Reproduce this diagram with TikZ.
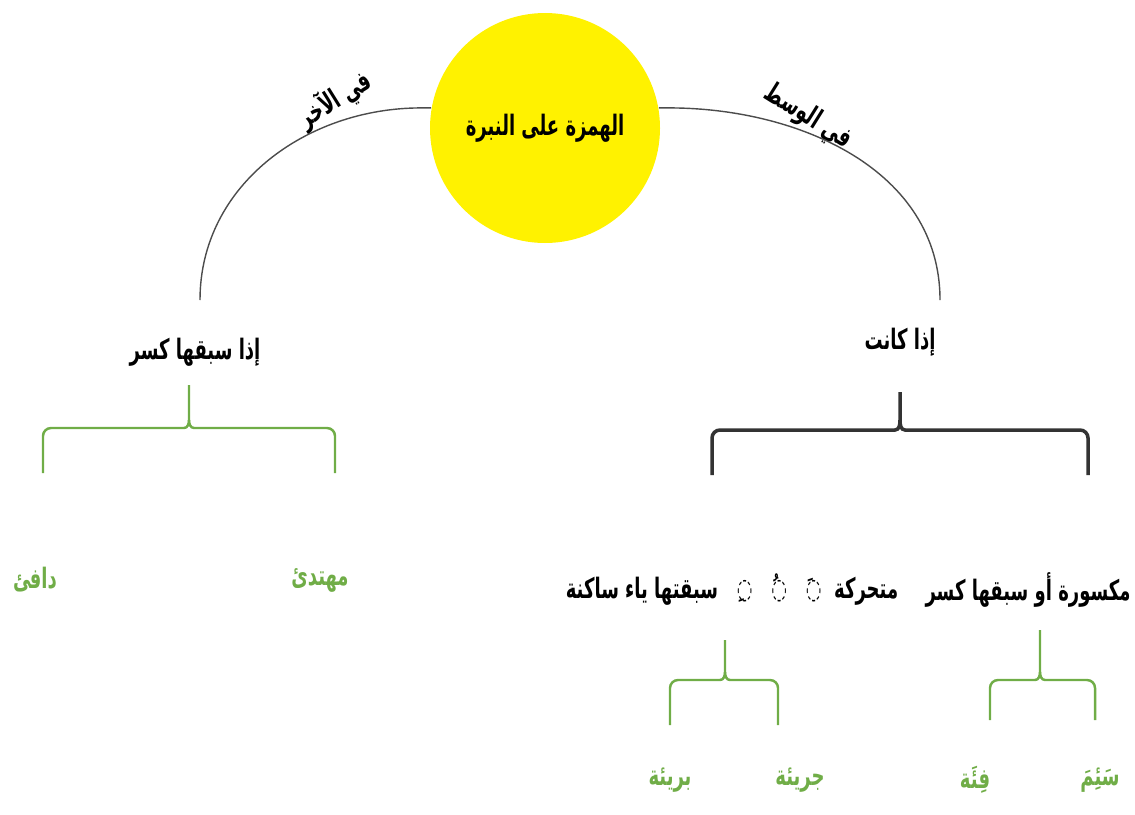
\documentclass[tikz,border=0pt]{standalone}
\usepackage{fontspec}
\TeXXeTstate=1
\newfontfamily\arabicfont[Script=Arabic, FakeStretch=0.64]{DejaVu Sans}
\usetikzlibrary{positioning, calc}
\definecolor{gruen}{RGB}{112,173,71}

\begin{document}
\begin{tikzpicture}[every node/.style={font=\arabicfont\bfseries\footnotesize},
    bogen/.style={draw=black!70, thin},
    klammer/.style={draw=gruen, line width=0.7pt},
    wort/.style={text=gruen}]
    \useasboundingbox (0,0) rectangle (11.35,-8.14);

    \node[circle, fill=yellow, minimum size=2.3cm, inner sep=0pt] (hamza) at (5.45,-1.28) {\beginR الهمزة على النبرة\endR};

    \coordinate (akhir) at (2.0,-3.0);
    \coordinate (wasat) at (9.4,-3.0);
    \node[rotate=32] (fialakhir) at (3.35,-1.0) {\beginR في الآخر\endR};
    \node[rotate=-32] (fialwasat) at (8.08,-1.17) {\beginR في الوسط\endR};

    \node (sabaqaha) at (1.95,-3.52) {\beginR إذا سبقها كسر\endR};
    \node (kanat) at (9.0,-3.42) {\beginR إذا كانت\endR};

    \node[wort] (muhtadi) at (3.2,-5.8) {\beginR مهتدئ\endR};
    \node[wort] (dafi) at (0.35,-5.8) {\beginR دافئ\endR};

    \node (maksura) at (10.28,-5.9) {\beginR مكسورة أو سبقها كسر\endR};
    \node (mutaharrika) at (7.32,-5.9) {\beginR متحركة\ \ ◌َ\ \ \ ◌ُ\ \ \ ◌ِ\ \ \ سبقتها ياء ساكنة\endR};

    \node[wort] (jariea) at (8.0,-7.8) {\beginR جريئة\endR};
    \node[wort] (bariea) at (6.7,-7.8) {\beginR بريئة\endR};
    \node[wort] (saema) at (11.0,-7.8) {\beginR سَئِمَ\endR};
    \node[wort] (fiea) at (9.75,-7.8) {\beginR فِئَة\endR};

    % Boegen vom Kreis
    \draw[bogen] (hamza.170) -- ++(-0.1,0) to[out=180, in=90] (akhir);
    \draw[bogen] (hamza.10) -- ++(0.1,0) to[out=0, in=90] (wasat);

    % Klammern
    \draw[klammer] (0.43,-4.73) -- (0.43,-4.36) to[out=90, in=180] (0.51,-4.28) -- (1.84,-4.28) to[out=0, in=-90] (1.89,-4.2) -- (1.89,-3.85);
    \draw[klammer] (3.35,-4.73) -- (3.35,-4.36) to[out=90, in=0] (3.27,-4.28) -- (1.94,-4.28) to[out=180, in=-90] (1.89,-4.2);
    \draw[line width=1pt, black!80] (7.12,-4.75) -- (7.12,-4.38) to[out=90, in=180] (7.2,-4.3) -- (8.95,-4.3) to[out=0, in=-90] (9.0,-4.2) -- (9.0,-3.92);
    \draw[line width=1pt, black!80] (10.88,-4.75) -- (10.88,-4.38) to[out=90, in=0] (10.8,-4.3) -- (9.05,-4.3) to[out=180, in=-90] (9.0,-4.2);
    \draw[klammer] (6.7,-7.25) -- (6.7,-6.88) to[out=90, in=180] (6.78,-6.8) -- (7.2,-6.8) to[out=0, in=-90] (7.25,-6.72) -- (7.25,-6.4);
    \draw[klammer] (7.78,-7.25) -- (7.78,-6.88) to[out=90, in=0] (7.7,-6.8) -- (7.3,-6.8) to[out=180, in=-90] (7.25,-6.72);
    \draw[klammer] (9.9,-7.2) -- (9.9,-6.88) to[out=90, in=180] (9.98,-6.8) -- (10.35,-6.8) to[out=0, in=-90] (10.4,-6.72) -- (10.4,-6.3);
    \draw[klammer] (10.95,-7.2) -- (10.95,-6.88) to[out=90, in=0] (10.87,-6.8) -- (10.45,-6.8) to[out=180, in=-90] (10.4,-6.72);
\end{tikzpicture}
\end{document}
